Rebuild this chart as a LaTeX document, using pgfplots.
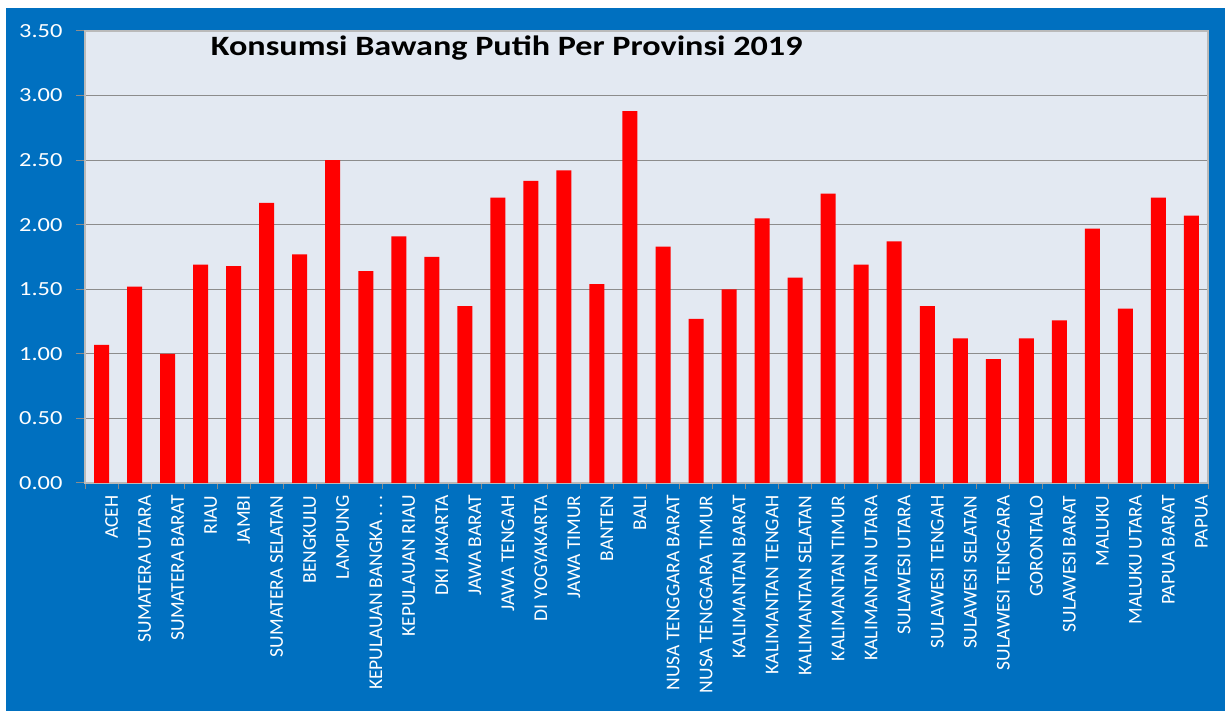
\documentclass[border=0pt]{standalone}
\usepackage{fontspec}
\setmainfont{Carlito}
\newfontfamily\widefont{Carlito}[FakeStretch=1.22]
\usepackage{pgfplots}
\pgfplotsset{compat=1.18}
\definecolor{bgblue}{HTML}{0070C0}
\definecolor{plotbg}{HTML}{E3E9F2}
\definecolor{gridgray}{HTML}{8C8C8C}
\begin{document}
\begin{tikzpicture}[x=1pt,y=1pt]
\useasboundingbox (0,0) rectangle (1225,711);
\clip (0,0) rectangle (1225,711);
\fill[white] (0,0) rectangle (1225,711);
\fill[bgblue] (6,0) rectangle (1225,703);
\begin{axis}[
  at={(85pt,228pt)}, anchor=south west,
  scale only axis, width=1123pt, height=452pt,
  axis background/.style={fill=plotbg},
  ymin=0, ymax=3.5,
  ytick={0,0.5,...,3.5},
  xmin=-0.5, xmax=33.5,
  xtick={0,1,...,33},
  minor xtick={-0.5,0.5,...,33.5},
  xticklabels={ACEH,SUMATERA UTARA,SUMATERA BARAT,RIAU,JAMBI,SUMATERA SELATAN,BENGKULU,LAMPUNG,{KEPULAUAN BANGKA\,.\,.\,.},KEPULAUAN RIAU,DKI JAKARTA,JAWA BARAT,JAWA TENGAH,DI YOGYAKARTA,JAWA TIMUR,BANTEN,BALI,NUSA TENGGARA BARAT,NUSA TENGGARA TIMUR,KALIMANTAN BARAT,KALIMANTAN TENGAH,KALIMANTAN SELATAN,KALIMANTAN TIMUR,KALIMANTAN UTARA,SULAWESI UTARA,SULAWESI TENGAH,SULAWESI SELATAN,SULAWESI TENGGARA,GORONTALO,SULAWESI BARAT,MALUKU,MALUKU UTARA,PAPUA BARAT,PAPUA},
  xticklabel style={rotate=90, anchor=east, font=\fontsize{19.5}{19.5}\selectfont, text=white, yshift=-10pt},
  yticklabel style={font=\widefont\fontsize{20}{20}\selectfont, text=white, xshift=-10pt},
  yticklabel={\pgfmathprintnumber[fixed,fixed zerofill,precision=2]{\tick}},
  /pgf/number format/assume math mode=true,
  tick align=outside,
  tick pos=left,
  major x tick style={draw=none},
  minor x tick style={draw=gridgray, line width=1pt},
  minor tick length=6pt,
  major y tick style={draw=gridgray, line width=1pt},
  major tick length=9pt,
  ymajorgrids,
  grid style={draw=gridgray, line width=1.2pt},
  axis line style={draw=gridgray!60, line width=1.2pt},
  ybar, bar width=15pt,
]
\addplot[fill=red, draw=none, bar shift=0pt] coordinates {
(0,1.07) (1,1.52) (2,1.00) (3,1.69) (4,1.68) (5,2.17) (6,1.77) (7,2.50) (8,1.64) (9,1.91)
(10,1.75) (11,1.37) (12,2.21) (13,2.34) (14,2.42) (15,1.54) (16,2.88) (17,1.83) (18,1.27) (19,1.50)
(20,2.05) (21,1.59) (22,2.24) (23,1.69) (24,1.87) (25,1.37) (26,1.12) (27,0.96) (28,1.12) (29,1.26)
(30,1.97) (31,1.35) (32,2.21) (33,2.07)
};
\node[anchor=west, font=\widefont\fontsize{28}{28}\selectfont\bfseries, text=black] at (rel axis cs:0.109,0.962) {Konsumsi Bawang Putih Per Provinsi 2019};
\end{axis}
\end{tikzpicture}
\end{document}
